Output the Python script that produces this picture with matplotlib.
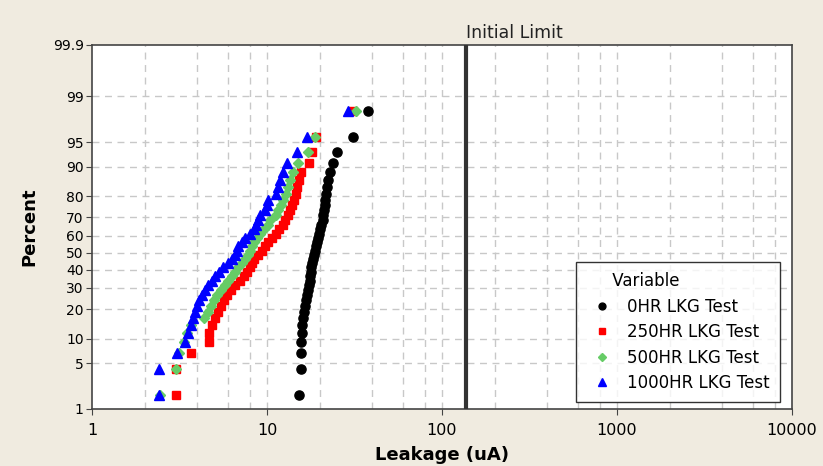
import numpy as np
import matplotlib
matplotlib.use('Agg')
import matplotlib.pyplot as plt
from matplotlib import font_manager
from statistics import NormalDist

# leakage values (uA), 40 units per test
hr0 = [15.3, 15.58, 15.58, 15.58, 15.79, 15.85, 16.0, 16.17, 16.38, 16.6,
       16.93, 17.15, 17.38, 17.61, 17.68, 17.77, 17.84, 17.96, 18.2, 18.56,
       18.88, 19.05, 19.31, 19.56, 19.83, 20.09, 20.43, 20.76, 21.03, 21.17,
       21.31, 21.45, 21.74, 22.03, 22.32, 22.91, 23.84, 25.12, 31.0, 37.77]
hr250 = [3.02, 3.02, 3.68, 4.66, 4.69, 4.85, 5.05, 5.25, 5.46, 5.68,
         5.91, 6.23, 6.56, 7.01, 7.39, 7.69, 8.0, 8.21, 8.43, 8.88,
         9.36, 9.74, 10.13, 10.68, 11.26, 11.71, 12.34, 12.67, 13.18, 13.53,
         13.9, 14.27, 14.55, 14.84, 15.24, 15.65, 17.45, 18.15, 19.18, 30.89]
hr500 = [2.45, 3.02, 3.14, 3.36, 3.49, 3.68, 4.37, 4.6, 4.79, 5.01,
         5.21, 5.46, 5.72, 5.99, 6.31, 6.56, 6.83, 7.15, 7.49, 7.74,
         8.0, 8.26, 8.48, 8.77, 9.18, 9.61, 10.07, 10.4, 11.19, 11.56,
         12.02, 12.34, 12.84, 13.24, 13.53, 14.13, 15.1, 17.22, 18.8, 32.26]
hr1000 = [2.4, 2.4, 3.06, 3.38, 3.54, 3.68, 3.79, 3.88, 3.97, 4.09,
          4.24, 4.42, 4.62, 4.82, 5.05, 5.32, 5.61, 5.99, 6.31, 6.56,
          6.78, 6.87, 7.2, 7.49, 8.0, 8.43, 8.65, 8.94, 9.18, 9.74,
          9.96, 10.17, 11.26, 11.6, 11.87, 12.39, 12.96, 14.78, 16.86, 29.03]

labels = ['0HR LKG Test', '250HR LKG Test', '500HR LKG Test', '1000HR LKG Test']
limit = 137

y_ticks = [1, 5, 10, 20, 30, 40, 50, 60, 70, 80, 90, 95, 99, 99.9]
x_ticks = [1, 10, 100, 1000, 10000]

# narrow font for tick labels if there is one
names = {f.name for f in font_manager.fontManager.ttflist}
narrow = 'Liberation Sans Narrow' if 'Liberation Sans Narrow' in names else 'DejaVu Sans'

nd = NormalDist()
def z(p):
    return nd.inv_cdf(p / 100.0)

def positions(n):
    # median ranks (i-0.3)/(n+0.4)
    i = np.arange(1, n + 1)
    return [z(100 * (k - 0.3) / (n + 0.4)) for k in i]

bg = '#f0ebe0'
fig = plt.figure(figsize=(8.23, 4.66), dpi=100, facecolor=bg)
ax = fig.add_axes([92 / 823, 57 / 466, 700 / 823, 364 / 466])
ax.set_xscale('log')

styles = [dict(marker='o', color='black', ms=6.6),
          dict(marker='s', color='#ff0000', ms=5.8),
          dict(marker='D', color='#66cc66', ms=5.4),
          dict(marker='^', color='#0000ff', ms=7.2)]

for vals, lab, st in zip([hr0, hr250, hr500, hr1000], labels, styles):
    v = np.sort(vals)
    ax.plot(v, positions(len(v)), ls='none', marker=st['marker'], color=st['color'],
            ms=st['ms'], mec=st['color'], label=lab, zorder=3)

ax.axvline(limit, color='#333333', lw=3, zorder=4)
ax.text(limit, z(99.9) + 0.05, 'Initial Limit', ha='left', va='bottom',
        fontsize=12.5 if narrow == 'DejaVu Sans' else 14, family=narrow, color='#222222')

ax.set_xlim(1, 10000)
ax.set_ylim(z(1), z(99.9))

ax.set_yticks([z(p) for p in y_ticks])
ax.set_yticklabels([str(p) for p in y_ticks])
ax.set_xticks(x_ticks)
ax.set_xticklabels([str(t) for t in x_ticks])
ax.xaxis.set_minor_locator(matplotlib.ticker.NullLocator())

# grid lines at 2,4,6,8 and decades
gx = [m * 10 ** d for d in range(0, 4) for m in (2, 4, 6, 8, 10)]
for g in gx:
    if g < 10000:
        ax.axvline(g, color='#c8c8c8', lw=1, ls=(0, (5, 4)), zorder=1)
for p in y_ticks[1:-1]:
    ax.axhline(z(p), color='#c8c8c8', lw=1, ls=(0, (5, 4)), zorder=1)

for s in ax.spines.values():
    s.set_color('#444444')
    s.set_linewidth(1.2)
ax.tick_params(axis='both', direction='out', length=4, color='#444444')
ax.tick_params(axis='y', labelsize=10, pad=2)
ax.tick_params(axis='x', labelsize=11.5 if narrow == 'DejaVu Sans' else 14, pad=6)
for t in ax.get_xticklabels() + ax.get_yticklabels():
    t.set_family(narrow)

ax.set_xlabel('Leakage (uA)', fontsize=13, fontweight='bold', labelpad=6)
ax.set_ylabel('Percent', fontsize=13, fontweight='bold', labelpad=10)

# title sits over the label column, like Minitab does it
leg = ax.legend(title='     Variable', alignment='left', loc='lower right',
                bbox_to_anchor=(0.983, 0.019), borderaxespad=0, fontsize=12,
                title_fontsize=12, frameon=True, fancybox=False, edgecolor='black',
                borderpad=0.6, handletextpad=0.5, markerscale=0.75, labelspacing=0.45)
leg.get_frame().set_linewidth(1.0)

fig.savefig('out.png', dpi=100, facecolor=bg)
